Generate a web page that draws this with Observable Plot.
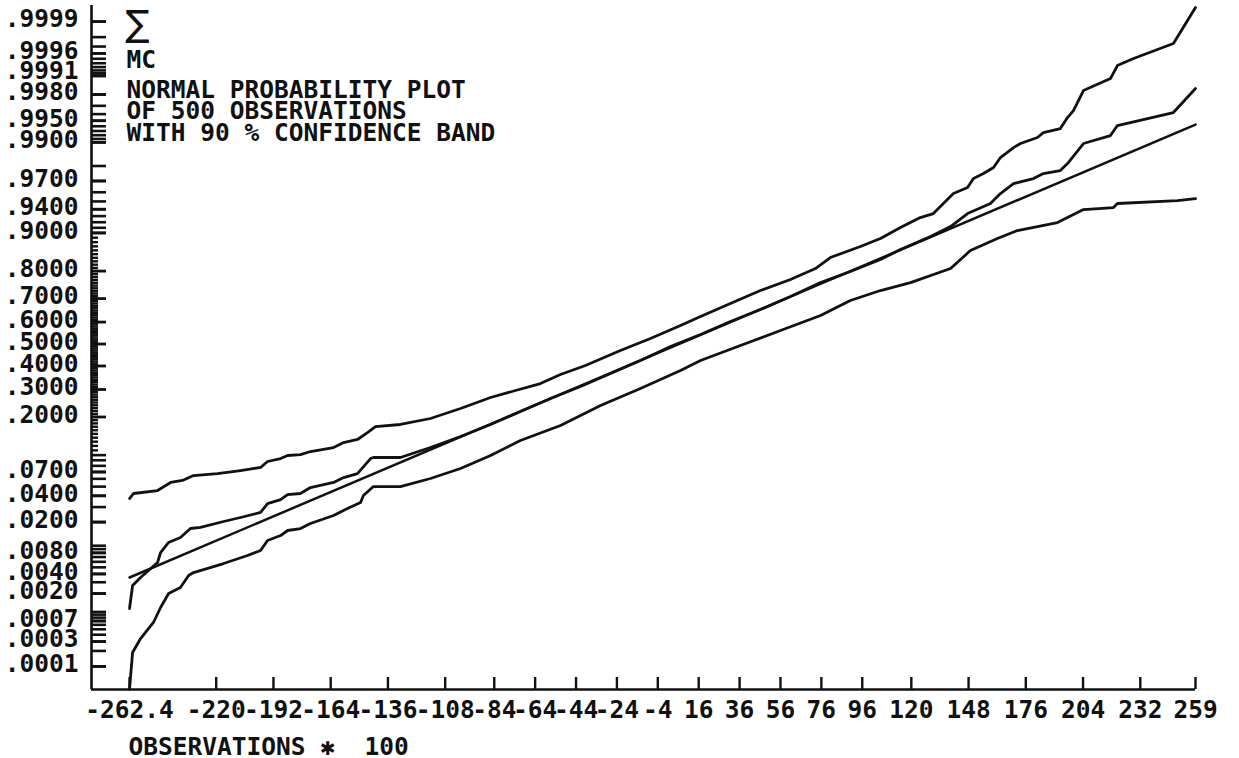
<!DOCTYPE html>
<html><head><meta charset="utf-8">
<script src="https://cdn.jsdelivr.net/npm/d3@7"></script>
<script src="https://cdn.jsdelivr.net/npm/@observablehq/plot@0.6"></script>
<style>body{margin:0;background:#fff}</style>
</head><body><div id="chart"></div>
<script>
// ---- data (x = observation / 100, y = normal score) ----
const xTickValues = [-262.4,-220,-192,-164,-136,-108,-84,-64,-44,-24,-4,16,36,56,76,96,120,148,176,204,232,259];
const yTickProbs = [.9999,.9996,.9991,.998,.995,.99,.97,.94,.9,.8,.7,.6,.5,.4,.3,.2,.07,.04,.02,.008,.004,.002,.0007,.0003,.0001];
const yTickLabels = [".9999",".9996",".9991",".9980",".9950",".9900",".9700",".9400",".9000",".8000",".7000",".6000",".5000",".4000",".3000",".2000",".0700",".0400",".0200",".0080",".0040",".0020",".0007",".0003",".0001"];
const titleLines = ["NORMAL PROBABILITY PLOT","OF 500 OBSERVATIONS","WITH 90 % CONFIDENCE BAND"];
const xLabel = "OBSERVATIONS ✱  100";

const fitLine = [[-262.4,-2.693],[259,2.532]];
const observed = [[-262.4,-3.051],[-260.9,-2.785],[-257.0,-2.693],[-248.7,-2.520],[-247.2,-2.405],[-243.3,-2.289],[-237.5,-2.232],[-232.6,-2.128],[-227.7,-2.116],[-216.4,-2.047],[-208.1,-2.001],[-198.3,-1.943],[-194.9,-1.840],[-188.5,-1.794],[-185.1,-1.736],[-178.8,-1.724],[-173.9,-1.655],[-162.6,-1.597],[-157.7,-1.540],[-150.9,-1.494],[-144.5,-1.321],[-143.1,-1.309],[-129.9,-1.309],[-115.2,-1.194],[-100.5,-1.067],[-85.8,-0.928],[-71.2,-0.779],[-56.5,-0.629],[-41.8,-0.490],[-27.1,-0.340],[-12.5,-0.190],[2.2,-0.029],[16.9,0.110],[31.5,0.260],[46.2,0.398],[60.9,0.548],[75.6,0.709],[90.2,0.836],[104.9,0.975],[114.7,1.090],[129.4,1.240],[139.2,1.355],[147.5,1.505],[158.7,1.621],[163.6,1.736],[170.0,1.851],[179.7,1.909],[184.6,1.967],[192.9,2.001],[196.4,2.082],[204.2,2.313],[217.4,2.405],[220.8,2.520],[248.2,2.670],[259,2.947]];
const upperBand = [[-262.4,-1.782],[-260.4,-1.724],[-248.7,-1.690],[-242.3,-1.597],[-236.5,-1.574],[-231.1,-1.517],[-219.4,-1.494],[-208.1,-1.459],[-198.3,-1.424],[-194.9,-1.355],[-188.5,-1.321],[-185.1,-1.286],[-178.8,-1.275],[-173.9,-1.240],[-162.6,-1.194],[-157.7,-1.136],[-150.9,-1.101],[-146.0,-1.021],[-142.1,-0.952],[-129.9,-0.928],[-115.2,-0.859],[-100.5,-0.744],[-85.8,-0.617],[-73.6,-0.536],[-61.4,-0.456],[-51.6,-0.352],[-39.4,-0.248],[-22.3,-0.075],[-7.6,0.063],[7.1,0.213],[16.9,0.317],[31.5,0.467],[46.2,0.617],[60.9,0.744],[73.1,0.871],[80.4,0.998],[95.1,1.125],[104.9,1.217],[114.7,1.344],[124.4,1.459],[130.8,1.505],[140.6,1.736],[147.5,1.805],[150.4,1.909],[155.3,1.967],[160.2,2.036],[163.6,2.151],[170.0,2.266],[173.4,2.313],[181.7,2.382],[184.6,2.439],[192.9,2.486],[196.4,2.612],[199.3,2.693],[204.2,2.924],[217.4,3.062],[220.8,3.212],[228.7,3.293],[248.2,3.466],[259,3.881]];
const lowerBand = [[-262.4,-3.98],[-260.9,-3.558],[-257.0,-3.397],[-250.7,-3.212],[-247.2,-3.039],[-243.3,-2.878],[-237.5,-2.809],[-233.5,-2.670],[-231.1,-2.636],[-216.4,-2.532],[-204.7,-2.439],[-198.3,-2.382],[-194.9,-2.266],[-188.5,-2.209],[-185.1,-2.151],[-178.8,-2.128],[-173.9,-2.070],[-162.6,-1.978],[-155.8,-1.897],[-149.4,-1.828],[-148.0,-1.747],[-143.1,-1.644],[-129.9,-1.644],[-115.2,-1.551],[-100.5,-1.436],[-85.8,-1.286],[-71.2,-1.113],[-51.6,-0.940],[-32.0,-0.709],[-12.5,-0.513],[7.1,-0.306],[16.9,-0.190],[36.4,-0.017],[56.0,0.156],[75.6,0.329],[90.2,0.502],[104.9,0.617],[119.6,0.709],[139.2,0.871],[148.9,1.078],[162.1,1.217],[171.9,1.309],[191.5,1.401],[204.2,1.551],[218.9,1.574],[220.8,1.621],[250.2,1.655],[259,1.678]];

// ---- inverse normal CDF (probability -> normal score) ----
function probit(p){
  const a=[-3.969683028665376e+01,2.209460984245205e+02,-2.759285104469687e+02,1.383577518672690e+02,-3.066479806614716e+01,2.506628277459239e+00];
  const b=[-5.447609879822406e+01,1.615858368580409e+02,-1.556989798598866e+02,6.680131188771972e+01,-1.328068155288572e+01];
  const c=[-7.784894002430293e-03,-3.223964580411365e-01,-2.400758277161838e+00,-2.549671348978180e+00,4.374664141464968e+00,2.938163982698783e+00];
  const d=[7.784695709041462e-03,3.224671290700398e-01,2.445134137142996e+00,3.754408661907416e+00];
  const pl=0.02425;
  let q,r;
  if(p<pl){q=Math.sqrt(-2*Math.log(p));return (((((c[0]*q+c[1])*q+c[2])*q+c[3])*q+c[4])*q+c[5])/((((d[0]*q+d[1])*q+d[2])*q+d[3])*q+1);}
  if(p<=1-pl){q=p-0.5;r=q*q;return (((((a[0]*r+a[1])*r+a[2])*r+a[3])*r+a[4])*r+a[5])*q/(((((b[0]*r+b[1])*r+b[2])*r+b[3])*r+b[4])*r+1);}
  q=Math.sqrt(-2*Math.log(1-p));return -(((((c[0]*q+c[1])*q+c[2])*q+c[3])*q+c[4])*q+c[5])/((((d[0]*q+d[1])*q+d[2])*q+d[3])*q+1);
}

// minor tick probabilities of the probability-paper axis
const minorProbs = [];
for (let k = 1; k <= 9; k++) minorProbs.push(k*1e-4, k*1e-3, 1-k*1e-4, 1-k*1e-3);
for (let k = 1; k <= 99; k++) minorProbs.push(k/100);
const longMinor = minorProbs.filter(p => p <= 0.1 || p >= 0.9).map(probit);
const shortMinor = minorProbs.filter(p => p > 0.1 && p < 0.9).map(probit);
const majorZ = yTickProbs.map(probit);

const W = 1239, H = 758, mL = 91, mR = 44, mT = 5, mB = 69;
const frameW = W - mL - mR, frameH = H - mT - mB;
const xDomain = [-281, 259];
const yDomain = [-3.985, 3.905];
const pxPerX = frameW / (xDomain[1] - xDomain[0]);
const ink = "#111";
const font = "'DejaVu Sans Mono', monospace";
const fs = 24.5;

const toObj = arr => arr.map(([x, y]) => ({x, y}));
const lineOpts = {x: "x", y: "y", stroke: ink, strokeWidth: 2.8, strokeLinejoin: "round", strokeLinecap: "round"};
const textOpts = {fill: ink, fontSize: fs, fontFamily: font, fontWeight: "bold"};
// inward y-axis tick of a given pixel length
const yTicks = (zs, len, sw) => Plot.ruleY(zs, {y: d => d, x1: xDomain[0], x2: xDomain[0] + len / pxPerX, stroke: ink, strokeWidth: sw});

const chart = Plot.plot({
  width: W,
  height: H,
  marginLeft: mL,
  marginRight: mR,
  marginTop: mT,
  marginBottom: mB,
  style: {background: "#fff", color: ink, fontFamily: font, fontWeight: "bold", fontSize: fs + "px"},
  x: {domain: xDomain, axis: null},
  y: {domain: yDomain, axis: null},
  marks: [
    // y ticks (pointing into the plot)
    yTicks(shortMinor, 7, 2.4),
    yTicks(longMinor, 15, 2.6),
    yTicks(majorZ, 15, 2.8),
    // axis lines
    Plot.ruleX([xDomain[0]], {stroke: ink, strokeWidth: 2.6}),
    Plot.ruleY([yDomain[0]], {stroke: ink, strokeWidth: 2.6}),
    // y labels
    Plot.text(yTickLabels, {y: majorZ, frameAnchor: "left", textAnchor: "end", dx: -13, dy: -2, lineAnchor: "middle", ...textOpts}),
    // x ticks (pointing into the plot)
    Plot.tickX(xTickValues, {x: d => d, insetTop: frameH - 12, stroke: ink, strokeWidth: 2.4}),
    // x labels
    Plot.text(xTickValues, {x: d => d, text: d => String(d), frameAnchor: "bottom", lineAnchor: "top", dy: 11, ...textOpts}),
    Plot.text([xLabel], {frameAnchor: "bottom-left", textAnchor: "start", lineAnchor: "top", dx: 37, dy: 48, ...textOpts}),
    // title block
    Plot.text(["∑"], {frameAnchor: "top-left", textAnchor: "start", lineAnchor: "middle", dx: 34, dy: 19, fill: ink, fontSize: 36, fontFamily: "'DejaVu Sans', sans-serif", fontWeight: "normal"}),
    Plot.text(["MC"], {frameAnchor: "top-left", textAnchor: "start", lineAnchor: "top", dx: 35, dy: 45, ...textOpts}),
    Plot.text([titleLines.join("\n")], {frameAnchor: "top-left", textAnchor: "start", lineAnchor: "top", dx: 35, dy: 77, lineHeight: 0.88, ...textOpts}),
    // curves
    Plot.line(toObj(fitLine), {...lineOpts, strokeWidth: 2.5}),
    Plot.line(toObj(observed), lineOpts),
    Plot.line(toObj(upperBand), lineOpts),
    Plot.line(toObj(lowerBand), lineOpts)
  ]
});
document.getElementById("chart").appendChild(chart);
</script>
</body></html>
